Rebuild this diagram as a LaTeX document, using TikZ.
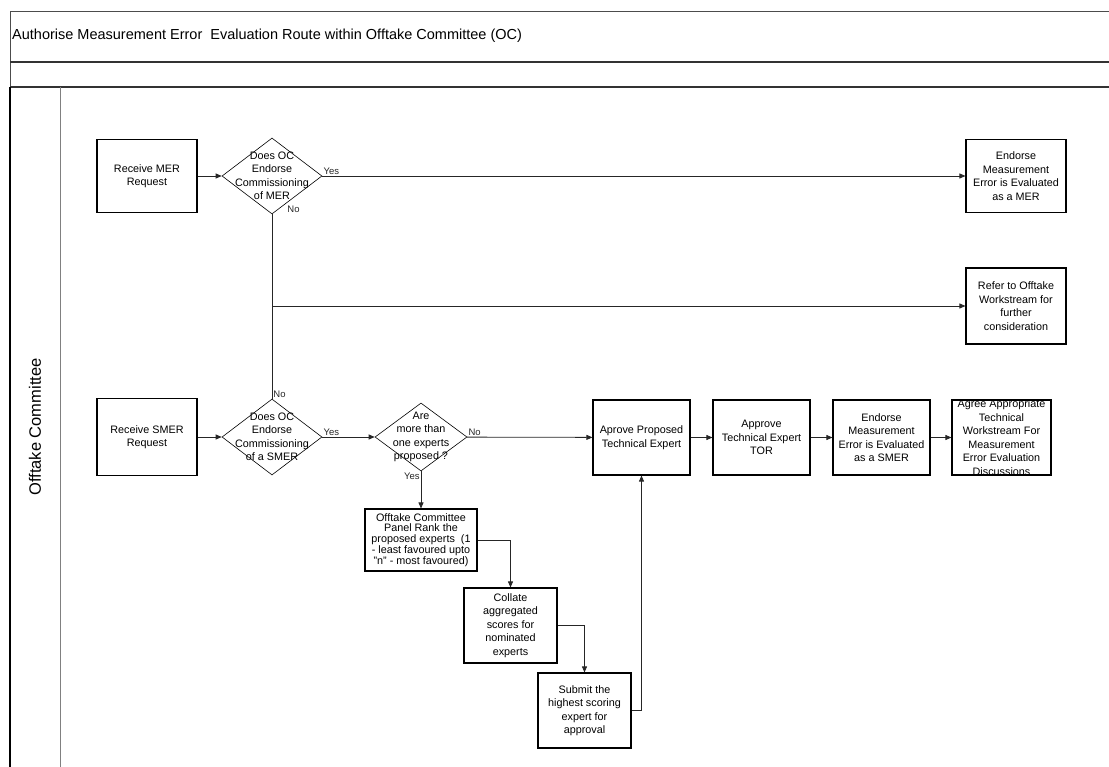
\documentclass[tikz,border=0pt]{standalone}
\usepackage{fontspec}
\setmainfont{Liberation Sans}
\usetikzlibrary{arrows.meta,shapes.geometric}
\newcommand\boxfont{\fontsize{10.8}{13.5}\selectfont}
\newcommand\tagfont{\fontsize{9.5}{11}\selectfont}

\begin{document}
\begin{tikzpicture}[x=1pt, y=-1pt,
	box/.style={draw, line width=1.1pt, minimum width=97pt, minimum height=75pt, inner sep=1pt, align=center, font=\boxfont},
	decision/.style={diamond, draw, line width=0.6pt, minimum width=100pt, minimum height=76pt, inner sep=0pt},
	dtext/.style={align=center, font=\boxfont},
	flow/.style={-{Triangle[length=6pt,width=5pt]}, line width=0.8pt, black!85},
	tag/.style={font=\tagfont, inner sep=1pt}]
	\useasboundingbox (0,0) rectangle (1109,767);
	\draw[line width=0.8pt, black!70] (10,767) -- (10,11) -- (1109,11);
	\draw[line width=1.2pt, black!80] (10,62) -- (1109,62) (10,87) -- (1109,87);
	\draw[line width=1.2pt] (10,87) -- (10,767);
	\draw[line width=1pt, gray] (60,87) -- (60,767);
	\node[anchor=west, font=\fontsize{14.5}{16}\selectfont, inner sep=0pt] (title) at (12,36) {Authorise Measurement Error\ \ Evaluation Route within Offtake Committee (OC)};
	\node[rotate=90, font=\fontsize{16.5}{18}\selectfont] (lane) at (35,427) {Offtake Committee};

	\node[box, minimum width=100pt, minimum height=73pt] (recmer) at (147,176) {Receive MER\\Request};
	\node[decision, label={[dtext]center:Does OC\\Endorse\\Commissioning\\of MER}] (ocmer) at (272,176) {};
	\node[box, minimum width=100pt, minimum height=73pt] (endmer) at (1016,176) {Endorse\\Measurement\\Error is Evaluated\\as a MER};
	\node[box, minimum width=100pt, minimum height=76pt] (refer) at (1016,306) {Refer to Offtake\\Workstream for\\further\\consideration};

	\node[box, minimum width=100pt, minimum height=77pt] (recsmer) at (147,437) {Receive SMER\\Request};
	\node[decision, label={[dtext]center:Does OC\\Endorse\\Commissioning\\of a SMER}] (ocsmer) at (272,437) {};
	\node[decision, minimum width=92pt, minimum height=68pt, label={[dtext]center:Are\\more than\\one experts\\proposed ?}] (experts) at (421,437) {};
	\node[box] (aprove) at (641.5,437.5) {Aprove Proposed\\Technical Expert};
	\node[box] (tor) at (761.5,437.5) {Approve\\Technical Expert\\TOR};
	\node[box] (endsmer) at (881.5,437.5) {Endorse\\Measurement\\Error is Evaluated\\as a SMER};
	\node[box] (agree) at (1001.5,437.5) {\parbox[c][66pt][c]{97pt}{\centering Agree Appropriate\\Technical\\Workstream For\\Measurement\\Error Evaluation\\Discussions}};

	\node[box, minimum width=112pt, minimum height=62pt, font=\fontsize{10.8}{10.8}\selectfont] (rank) at (421,540) {Offtake Committee\\Panel Rank the\\proposed experts\ \ (1\\- least favoured upto\\"n" - most favoured)};
	\node[box, minimum width=93pt] (collate) at (510.5,625.5) {Collate\\aggregated\\scores for\\nominated\\experts};
	\node[box, minimum width=93pt] (submit) at (584.5,710.5) {Submit the\\highest scoring\\expert for\\approval};

	\draw[flow] (recmer) -- (ocmer);
	\draw[flow] (ocmer.east) -- node[tag, pos=0, above right] {Yes} (endmer.west);
	\draw[flow] (ocmer.south) |- node[tag, pos=0, anchor=south west, xshift=14pt] {No} (refer.west);
	\draw[line width=0.8pt, black!85] (ocsmer.north) -- node[tag, pos=0, above right] {No} (ocsmer.north |- refer.west);
	\draw[flow] (recsmer) -- (ocsmer);
	\draw[flow] (ocsmer) -- node[tag, pos=0, above right] {Yes} (experts);
	\draw[flow] (experts) -- node[tag, pos=0, above right] {No} (aprove);
	\draw[flow] (experts) -- node[tag, pos=0, below left] {Yes} (rank);
	\draw[flow] (aprove) -- (tor);
	\draw[flow] (tor) -- (endsmer);
	\draw[flow] (endsmer) -- (agree);
	\draw[flow] (rank.east) -| (collate.north);
	\draw[flow] (collate.east) -| (submit.north);
	\draw[flow] (submit.east) -| (aprove.south);
\end{tikzpicture}
\end{document}
